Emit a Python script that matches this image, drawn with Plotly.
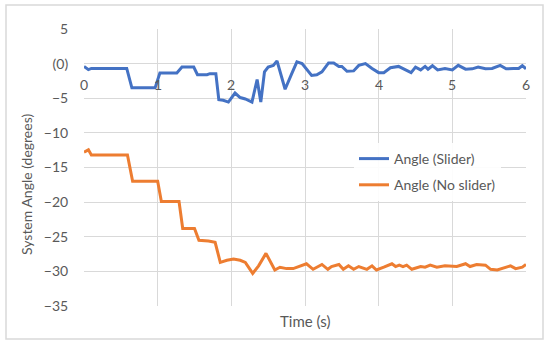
import plotly.graph_objects as go

# Blue: Angle (Slider)
t_slider = [0.0, 0.06, 0.10, 0.58, 0.65, 0.965, 1.03, 1.26, 1.33, 1.49, 1.54, 1.67, 1.71, 1.79, 1.83,
            1.89, 1.96, 2.05, 2.12, 2.19, 2.28, 2.35, 2.40, 2.45, 2.50, 2.57, 2.62, 2.73, 2.82, 2.89,
            2.96, 3.09, 3.16, 3.23, 3.32, 3.39, 3.46, 3.50, 3.57, 3.66, 3.73, 3.82, 3.91, 4.00, 4.07,
            4.16, 4.27, 4.36, 4.44, 4.50, 4.57, 4.63, 4.67, 4.73, 4.80, 4.90, 5.00, 5.08, 5.18, 5.27,
            5.35, 5.45, 5.54, 5.65, 5.73, 5.83, 5.90, 5.95, 6.00]
v_slider = [-0.4, -0.87, -0.7, -0.7, -3.5, -3.5, -1.35, -1.35, -0.5, -0.5, -1.6, -1.6, -1.45, -1.45, -5.2,
            -5.3, -5.55, -4.25, -4.9, -5.1, -5.55, -2.3, -5.55, -1.2, -0.5, -0.25, 0.4, -3.7, -1.45, 0.25,
            0.0, -1.7, -1.6, -1.2, 0.1, 0.1, -0.4, -0.4, -1.1, -1.05, -0.25, 0.0, -0.7, -1.3, -1.3,
            -0.6, -0.4, -0.9, -1.3, -0.5, -0.9, -0.4, -0.8, -0.3, -0.9, -0.7, -0.9, -0.25, -0.8, -0.75,
            -0.5, -0.75, -0.7, -0.25, -0.75, -0.7, -0.7, -0.3, -0.75]

# Orange: Angle (No slider)
t_noslider = [0.0, 0.06, 0.10, 0.59, 0.66, 1.00, 1.05, 1.29, 1.34, 1.50, 1.56, 1.69, 1.78, 1.85, 1.94,
              2.03, 2.12, 2.19, 2.29, 2.37, 2.47, 2.53, 2.59, 2.66, 2.75, 2.84, 2.93, 3.02, 3.11, 3.23,
              3.31, 3.36, 3.46, 3.52, 3.59, 3.66, 3.73, 3.84, 3.91, 3.97, 4.07, 4.18, 4.23, 4.28, 4.33,
              4.38, 4.45, 4.57, 4.63, 4.70, 4.79, 4.90, 5.06, 5.18, 5.24, 5.33, 5.45, 5.52, 5.61, 5.79,
              5.86, 5.95, 6.00]
v_noslider = [-12.8, -12.45, -13.2, -13.2, -17.0, -17.0, -19.9, -19.9, -23.8, -23.8, -25.5, -25.6, -25.8, -28.7, -28.4,
              -28.2, -28.4, -28.7, -30.3, -29.2, -27.4, -28.5, -29.8, -29.4, -29.6, -29.6, -29.3, -28.9, -29.7, -29.0,
              -29.7, -29.3, -29.0, -29.7, -29.2, -29.7, -29.3, -29.7, -29.2, -29.8, -29.4, -28.9, -29.3, -29.1, -29.3,
              -29.1, -29.7, -29.3, -29.4, -29.1, -29.4, -29.2, -29.3, -28.9, -29.3, -29.0, -29.1, -29.7, -29.8, -29.2,
              -29.6, -29.4, -29.0]

series_names = ["Angle (Slider)", "Angle (No slider)"]
colors = ["#4472C4", "#ED7D31"]

y_tickvals = [5, 0, -5, -10, -15, -20, -25, -30, -35]
y_ticktext = ["5", "(0)", "\u22125", "\u221210", "\u221215", "\u221220", "\u221225", "\u221230", "\u221235"]
x_tickvals = [0, 1, 2, 3, 4, 5, 6]
x_ticktext = ["0", "1", "2", "3", "4", "5", "6"]

FONT = "Lato"
FS = 14
GRAY = "#595959"

fig = go.Figure()
fig.add_trace(go.Scatter(x=t_slider, y=v_slider, mode="lines", name=series_names[0],
                         line=dict(color=colors[0], width=3), legendgroup="a"))
fig.add_trace(go.Scatter(x=t_noslider, y=v_noslider, mode="lines", name=series_names[1],
                         line=dict(color=colors[1], width=3), legendgroup="b"))

W, H = 550, 347
ml, mr, mt, mb = 84, 24, 29, 41
pw, ph = W - ml - mr, H - mt - mb

def px(xp):
    return (xp - ml) / pw

def py(yp):
    return (H - mb - yp) / ph

annotations = []
for v, s in zip(x_tickvals, x_ticktext):
    annotations.append(dict(x=v, y=0, xref="x", yref="y", text=s, showarrow=False,
                            xanchor="center", yanchor="middle", yshift=-21,
                            font=dict(family=FONT, size=FS, color=GRAY)))
annotations.append(dict(x=px(305), y=py(321), xref="paper", yref="paper", text="Time (s)",
                        showarrow=False, xanchor="center", yanchor="middle",
                        font=dict(family=FONT, size=FS + 1, color=GRAY)))
annotations.append(dict(x=px(26), y=py(185), xref="paper", yref="paper", text="System Angle (degrees)",
                        showarrow=False, xanchor="center", yanchor="middle", textangle=-90,
                        font=dict(family=FONT, size=FS, color=GRAY)))

fig.update_layout(
    width=W, height=H,
    margin=dict(l=ml, r=mr, t=mt, b=mb),
    paper_bgcolor="white", plot_bgcolor="white",
    showlegend=True, hovermode=False,
    legend=dict(x=px(354), y=py(143), xanchor="left", yanchor="top",
                font=dict(family=FONT, size=FS, color=GRAY), bgcolor="rgba(255,255,255,0.9)",
                tracegroupgap=5, traceorder="grouped"),
    xaxis=dict(range=[0, 6], tickvals=x_tickvals, showticklabels=False, showgrid=True,
               gridcolor="#d9d9d9", gridwidth=1, zeroline=False, showline=False),
    yaxis=dict(range=[-35, 5], tickvals=y_tickvals, ticktext=y_ticktext, showgrid=True,
               gridcolor="#d9d9d9", gridwidth=1, zeroline=False, showline=False,
               ticks="outside", ticklen=12, tickcolor="rgba(0,0,0,0)",
               tickfont=dict(family=FONT, size=FS, color=GRAY)),
    annotations=annotations,
    shapes=[dict(type="rect", xref="paper", yref="paper", x0=px(6), x1=px(543), y0=py(339), y1=py(5),
                 line=dict(color="#d9d9d9", width=1.5), layer="below")],
)

fig.write_html("out.html", config={"displayModeBar": False, "staticPlot": True},
               post_script="document.body.style.margin='0px';")
